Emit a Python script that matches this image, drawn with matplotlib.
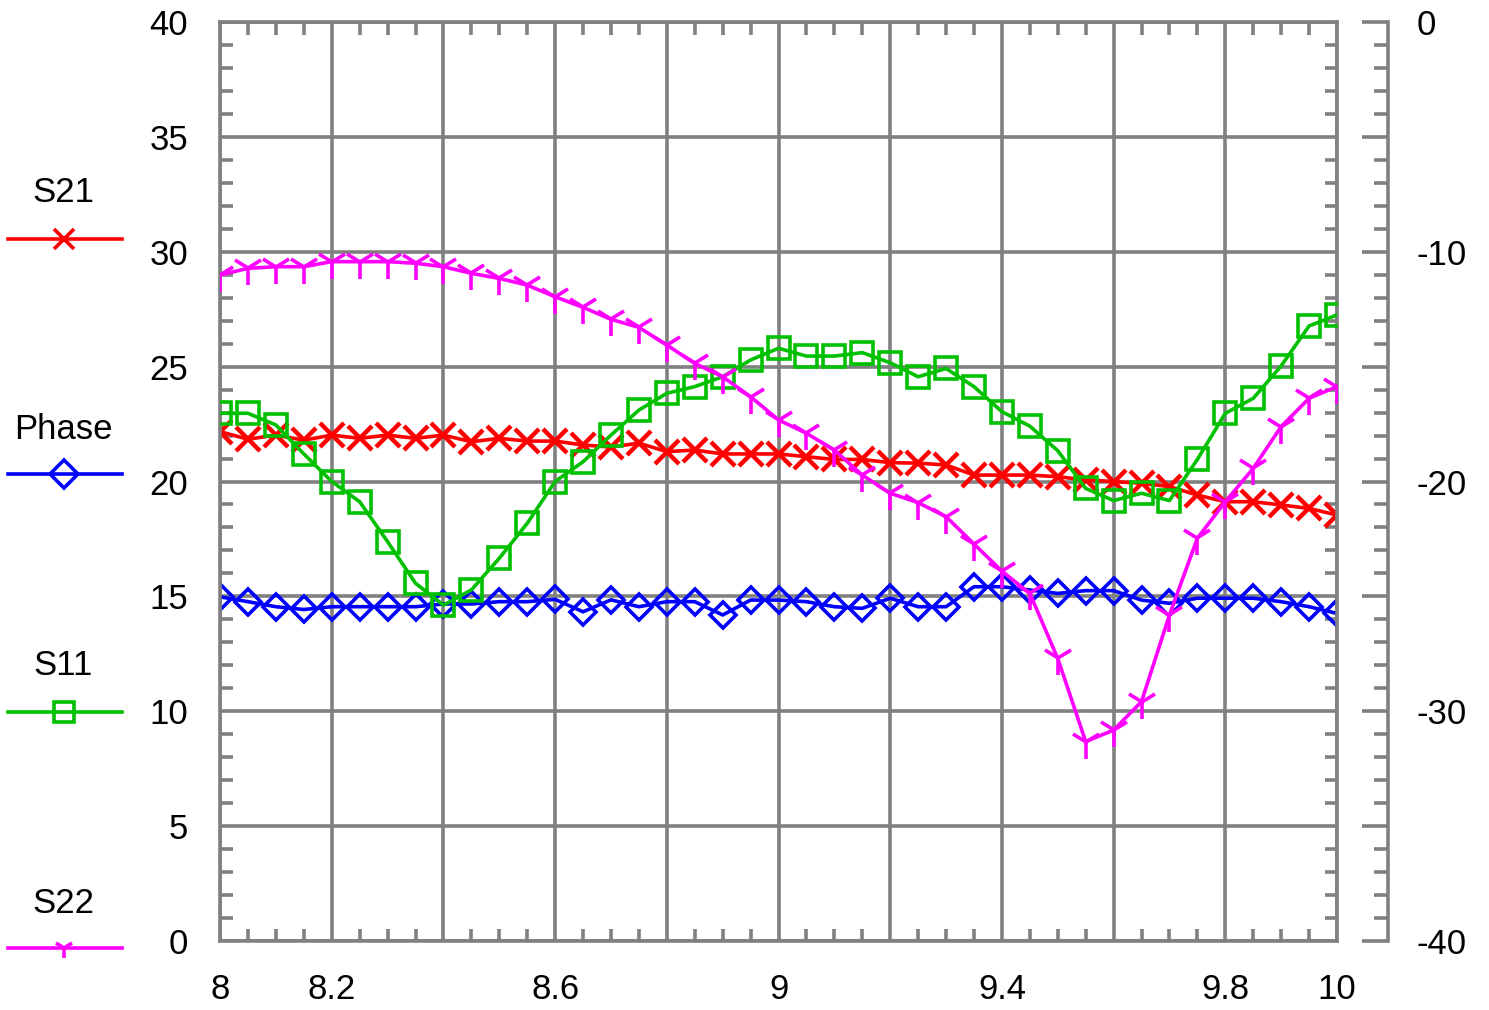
import numpy as np
import matplotlib
matplotlib.use("Agg")
from matplotlib import pyplot as plt
from matplotlib.lines import Line2D
from matplotlib.ticker import MultipleLocator

plt.rcParams['font.family'] = ['Liberation Sans', 'DejaVu Sans']

# frequency points, 8 to 10 step 0.05
freq = np.round(np.arange(8.0, 10.001, 0.05), 2)

# left axis series
s21 = [22.17, 21.84, 22.02, 21.8, 22.02, 21.88, 22.02, 21.88, 22.02, 21.73,
       21.88, 21.76, 21.76, 21.59, 21.5, 21.67, 21.3, 21.37, 21.2, 21.2,
       21.2, 21.08, 20.96, 20.96, 20.82, 20.8, 20.72, 20.28, 20.28, 20.28,
       20.21, 20.07, 20.0, 19.92, 19.78, 19.41, 19.12, 19.12, 18.98, 18.83,
       18.54]
phase = [14.98, 14.77, 14.55, 14.43, 14.55, 14.55, 14.55, 14.55, 14.67, 14.67,
         14.77, 14.77, 14.87, 14.33, 14.85, 14.55, 14.77, 14.77, 14.19, 14.84,
         14.84, 14.77, 14.55, 14.48, 14.92, 14.55, 14.55, 15.42, 15.42, 15.28,
         15.13, 15.25, 15.25, 14.84, 14.7, 14.92, 14.92, 14.92, 14.77, 14.55,
         14.26]

# right axis series (dB)
s11 = [-17.03, -17.03, -17.54, -18.8, -20.0, -20.88, -22.62, -24.43, -25.38, -24.72,
       -23.34, -21.82, -20.0, -19.14, -17.98, -16.89, -16.16, -15.87, -15.44, -14.71,
       -14.2, -14.54, -14.54, -14.39, -14.83, -15.44, -15.08, -15.87, -16.96, -17.59,
       -18.66, -20.3, -20.83, -20.51, -20.83, -19.04, -17.03, -16.38, -14.97, -13.23,
       -12.75]
s22 = [-11.01, -10.72, -10.65, -10.65, -10.43, -10.43, -10.43, -10.5, -10.65, -10.94,
       -11.16, -11.45, -11.96, -12.42, -12.94, -13.29, -14.06, -14.86, -15.44, -16.31,
       -17.32, -17.9, -18.63, -19.72, -20.51, -20.92, -21.53, -22.72, -23.9, -24.87,
       -27.7, -31.32, -30.82, -29.58, -25.81, -22.47, -20.88, -19.43, -17.61, -16.38,
       -15.87]

xticks = [8.0, 8.2, 8.4, 8.6, 8.8, 9.0, 9.2, 9.4, 9.6, 9.8, 10.0]
xlabels = ['8', '8.2', '', '8.6', '', '9', '', '9.4', '', '9.8', '10']
left_ticks = [0, 5, 10, 15, 20, 25, 30, 35, 40]
right_ticks = [-40, -35, -30, -25, -20, -15, -10, -5, 0]
right_labels = ['-40', '', '-30', '', '-20', '', '-10', '', '0']

grey = '#808080'
red, blue, green, magenta = '#ff0000', '#0000ff', '#00c000', '#ff00ff'
lw = 2.6

fig = plt.figure(figsize=(14.89, 10.10), dpi=100)
ax = fig.add_axes([0.1478, 0.0683, 0.7501, 0.9099])
ax2 = ax.twinx()

ax.plot(freq, s21, color=red, lw=lw, marker='x', ms=17, mew=3.2)
ax.plot(freq, phase, color=blue, lw=lw, marker='D', ms=13, mew=2.6, mfc='none')
ax2.plot(freq, s11, color=green, lw=lw, marker='s', ms=16, mew=2.6, mfc='none')
ax2.plot(freq, s22, color=magenta, lw=lw, marker='1', ms=24, mew=2.6)

ax.set_xlim(8, 10)
ax.set_ylim(0, 40)
ax2.set_ylim(-40, 0)

ax.set_xticks(xticks, xlabels)
ax.xaxis.set_minor_locator(MultipleLocator(0.05))
ax.set_yticks(left_ticks, [str(t) for t in left_ticks])
ax.yaxis.set_minor_locator(MultipleLocator(1))
ax.set_axisbelow(True)
ax.grid(True, which='major', color=grey, lw=2.6)

for sp in ax.spines.values():
    sp.set_color(grey)
    sp.set_linewidth(2.6)

ax.tick_params(which='major', direction='in', length=0, labelsize=25, pad=23,
               top=True, right=True, labelcolor='black')
ax.tick_params(which='minor', direction='in', length=9, width=2.6, color=grey,
               top=True, right=True)

ax2.set_yticks(right_ticks, right_labels)
ax2.yaxis.set_minor_locator(MultipleLocator(1))
for name in ['left', 'top', 'bottom']:
    ax2.spines[name].set_visible(False)
ax2.spines['right'].set_position(('outward', 36.5))
ax2.spines['right'].set_color(grey)
ax2.spines['right'].set_linewidth(2.6)
ax2.tick_params(which='major', direction='in', length=19, width=2.6, color=grey,
                labelsize=25, pad=21)
ax2.tick_params(which='minor', direction='in', length=10, width=2.6, color=grey)

# legend column on the left
legend = [('S21', red, 'x', 0.8099, 0.7634),
          ('Phase', blue, 'D', 0.5743, 0.5307),
          ('S11', green, 's', 0.3406, 0.2950),
          ('S22', magenta, '1', 0.1050, 0.0614)]
for name, col, mk, ty, ly in legend:
    fig.text(0.0425, ty, name, ha='center', va='center', fontsize=25)
    fig.add_artist(Line2D([0.0054, 0.0819], [ly, ly], color=col, lw=lw))
    fig.add_artist(Line2D([0.043], [ly], color=col, marker=mk, ms=14, mew=2.6,
                          mfc='none', ls='none'))

fig.savefig('out.png', dpi=100)
